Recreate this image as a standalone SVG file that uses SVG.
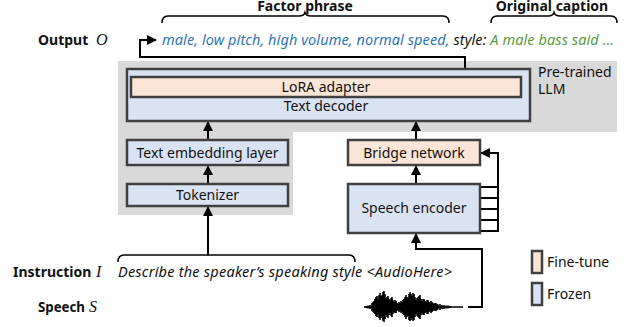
<svg xmlns="http://www.w3.org/2000/svg" width="633" height="327" viewBox="0 0 633 327">
<defs>
<marker id="ah" viewBox="0 0 10 10" refX="9" refY="5" markerWidth="10" markerHeight="10" markerUnits="userSpaceOnUse" orient="auto">
<path d="M0,0 L10,5 L0,10 Z" fill="#000"/>
</marker>
</defs>
<style>
.t{font-family:"Noto Sans","Open Sans",sans-serif;font-size:14px;fill:#111}
.b{font-family:"Noto Sans","Open Sans",sans-serif;font-size:14px;font-weight:bold;fill:#111}
.i{font-family:"Noto Sans","Open Sans",sans-serif;font-size:14.5px;font-style:italic;fill:#111}
.m{font-family:"Liberation Serif","DejaVu Serif",serif;font-size:16px;font-style:italic;fill:#111}
.ft{fill:#fbe5d6;stroke:#404040;stroke-width:2.5}
.fz{fill:#dae3f3;stroke:#404040;stroke-width:2.5}
.ln{fill:none;stroke:#000;stroke-width:2}
.br{fill:none;stroke:#000;stroke-width:1.5}
</style>
<rect width="633" height="327" fill="#fff"/>
<!-- LLM background -->
<path d="M118,61 H617 V132 H293 V215 H118 Z" fill="#d9d9d9"/>
<text class="t" x="538" y="77">Pre-trained</text>
<text class="t" x="538" y="94">LLM</text>

<g id="connectors">
<path class="ln" d="M465,69 V57 H140 V40 H156" marker-end="url(#ah)"/>
<path class="ln" d="M208,140 V122" marker-end="url(#ah)"/>
<path class="ln" d="M208,184 V166" marker-end="url(#ah)"/>
<path class="ln" d="M208,255 V207" marker-end="url(#ah)"/>
<path class="ln" d="M416,140 V122" marker-end="url(#ah)"/>
<path class="ln" d="M416,184 V166" marker-end="url(#ah)"/>
<path class="ln" d="M468,307 H482 V249 H416 V234" marker-end="url(#ah)"/>
<path class="ln" d="M480,187 H498 M480,198 H498 M480,209 H498 M480,220 H498 M480,231 H498"/>
<path class="ln" d="M498,232 V153 H481" marker-end="url(#ah)"/>
</g>

<g id="decoder">
<rect class="fz" x="127" y="69" width="403" height="52"/>
<text class="t" x="326" y="111" text-anchor="middle">Text decoder</text>
</g>
<g id="lora">
<rect class="ft" x="131" y="77" width="390" height="20"/>
<text class="t" x="326" y="92" text-anchor="middle">LoRA adapter</text>
</g>
<g id="embedding">
<rect class="fz" x="127" y="140" width="161" height="25"/>
<text class="t" x="207.5" y="157.5" text-anchor="middle">Text embedding layer</text>
</g>
<g id="tokenizer">
<rect class="fz" x="127" y="184" width="161" height="22"/>
<text class="t" x="207.5" y="200" text-anchor="middle">Tokenizer</text>
</g>
<g id="bridge">
<rect class="ft" x="348" y="140" width="132" height="25"/>
<text class="t" x="414" y="157.5" text-anchor="middle">Bridge network</text>
</g>
<g id="encoder">
<rect class="fz" x="348" y="184" width="132" height="49"/>
<text class="t" x="414" y="213" text-anchor="middle">Speech encoder</text>
</g>

<!-- top labels -->
<text class="b" x="305" y="11" text-anchor="middle">Factor phrase</text>
<text class="b" x="552" y="11" text-anchor="middle">Original caption</text>
<path class="br" d="M162,23 Q162,16 168,16 L299,16 Q304,16 305,12.5 Q306,16 311,16 L443,16 Q449,16 449,23"/>
<path class="br" d="M491,23 Q491,16 497,16 L548,16 Q553,16 554,12.5 Q555,16 560,16 L611,16 Q617,16 617,23"/>

<g id="output">
<text class="b" x="38" y="45">Output</text>
<text class="m" x="96" y="45">O</text>
<text class="i" x="162" y="45" textLength="452" lengthAdjust="spacing"><tspan fill="#2E75B6">male, low pitch, high volume, normal speed,</tspan> style: <tspan fill="#5B9A3F">A male bass said ...</tspan></text>
</g>

<g id="instruction">
<text class="b" x="13" y="277">Instruction</text>
<text class="m" x="96" y="277">I</text>
<path class="br" d="M118,262 Q118,255 124,255 L349,255 Q355,255 355,262"/>
<text class="i" x="118" y="277" textLength="334" lengthAdjust="spacing">Describe the speaker’s speaking style &lt;AudioHere&gt;</text>
</g>

<g id="speech">
<text class="b" x="38" y="312" textLength="47" lengthAdjust="spacingAndGlyphs">Speech</text>
<text class="m" x="89" y="312">S</text>
<path fill="none" stroke="#000" stroke-width="1.6" d="M364,307 H463
M366,306 V308 M368,305.5 V308.5 M370,305 V309 M372,303 V311 M373,302 V312 M374,301 V313 M375,299 V314 M376,297 V316 M377,296 V317 M378,299 V314 M379,295 V318 M380,293 V320 M381,296 V317 M382,295 V318 M383,292 V321 M384,291 V322 M385,294 V319 M386,298 V315 M387,297 V317 M388,296 V318 M389,299 V315 M390,300 V313 M391,298 V316 M392,297 V317 M393,300 V314 M394,302 V312 M395,300 V313 M396,301 V313 M397,303 V311 M398,304 V310 M399,302 V312 M400,303 V311 M401,301 V313 M402,302 V312 M403,300 V314 M404,299 V315 M405,297 V317 M406,295 V319 M407,297 V317 M408,298 V316 M409,294 V320 M410,292 V321 M411,294 V320 M412,296 V318 M413,293 V321 M414,294 V320 M415,297 V317 M416,300 V314 M417,298 V316 M418,297 V317 M419,296 V318 M420,295 V319 M421,299 V315 M422,301 V313 M423,299 V315 M424,299 V315 M425,301 V313 M426,302 V312 M427,300 V314 M428,300 V314 M429,302 V312 M430,303 V311 M431,301 V313 M432,302 V312 M433,303 V311 M434,304 V310 M435,303 V311 M436,303 V311 M437,304 V310 M438,304.5 V309.5 M440,304 V310 M442,305 V309 M444,305 V309 M446,305.5 V308.5 M448,305.5 V308.5 M450,306 V308"/>
</g>

<g id="legend">
<rect class="ft" x="532" y="251" width="10" height="22"/>
<text class="t" x="547" y="267">Fine-tune</text>
<rect class="fz" x="532" y="283" width="10" height="22"/>
<text class="t" x="547" y="299">Frozen</text>
</g>
</svg>
